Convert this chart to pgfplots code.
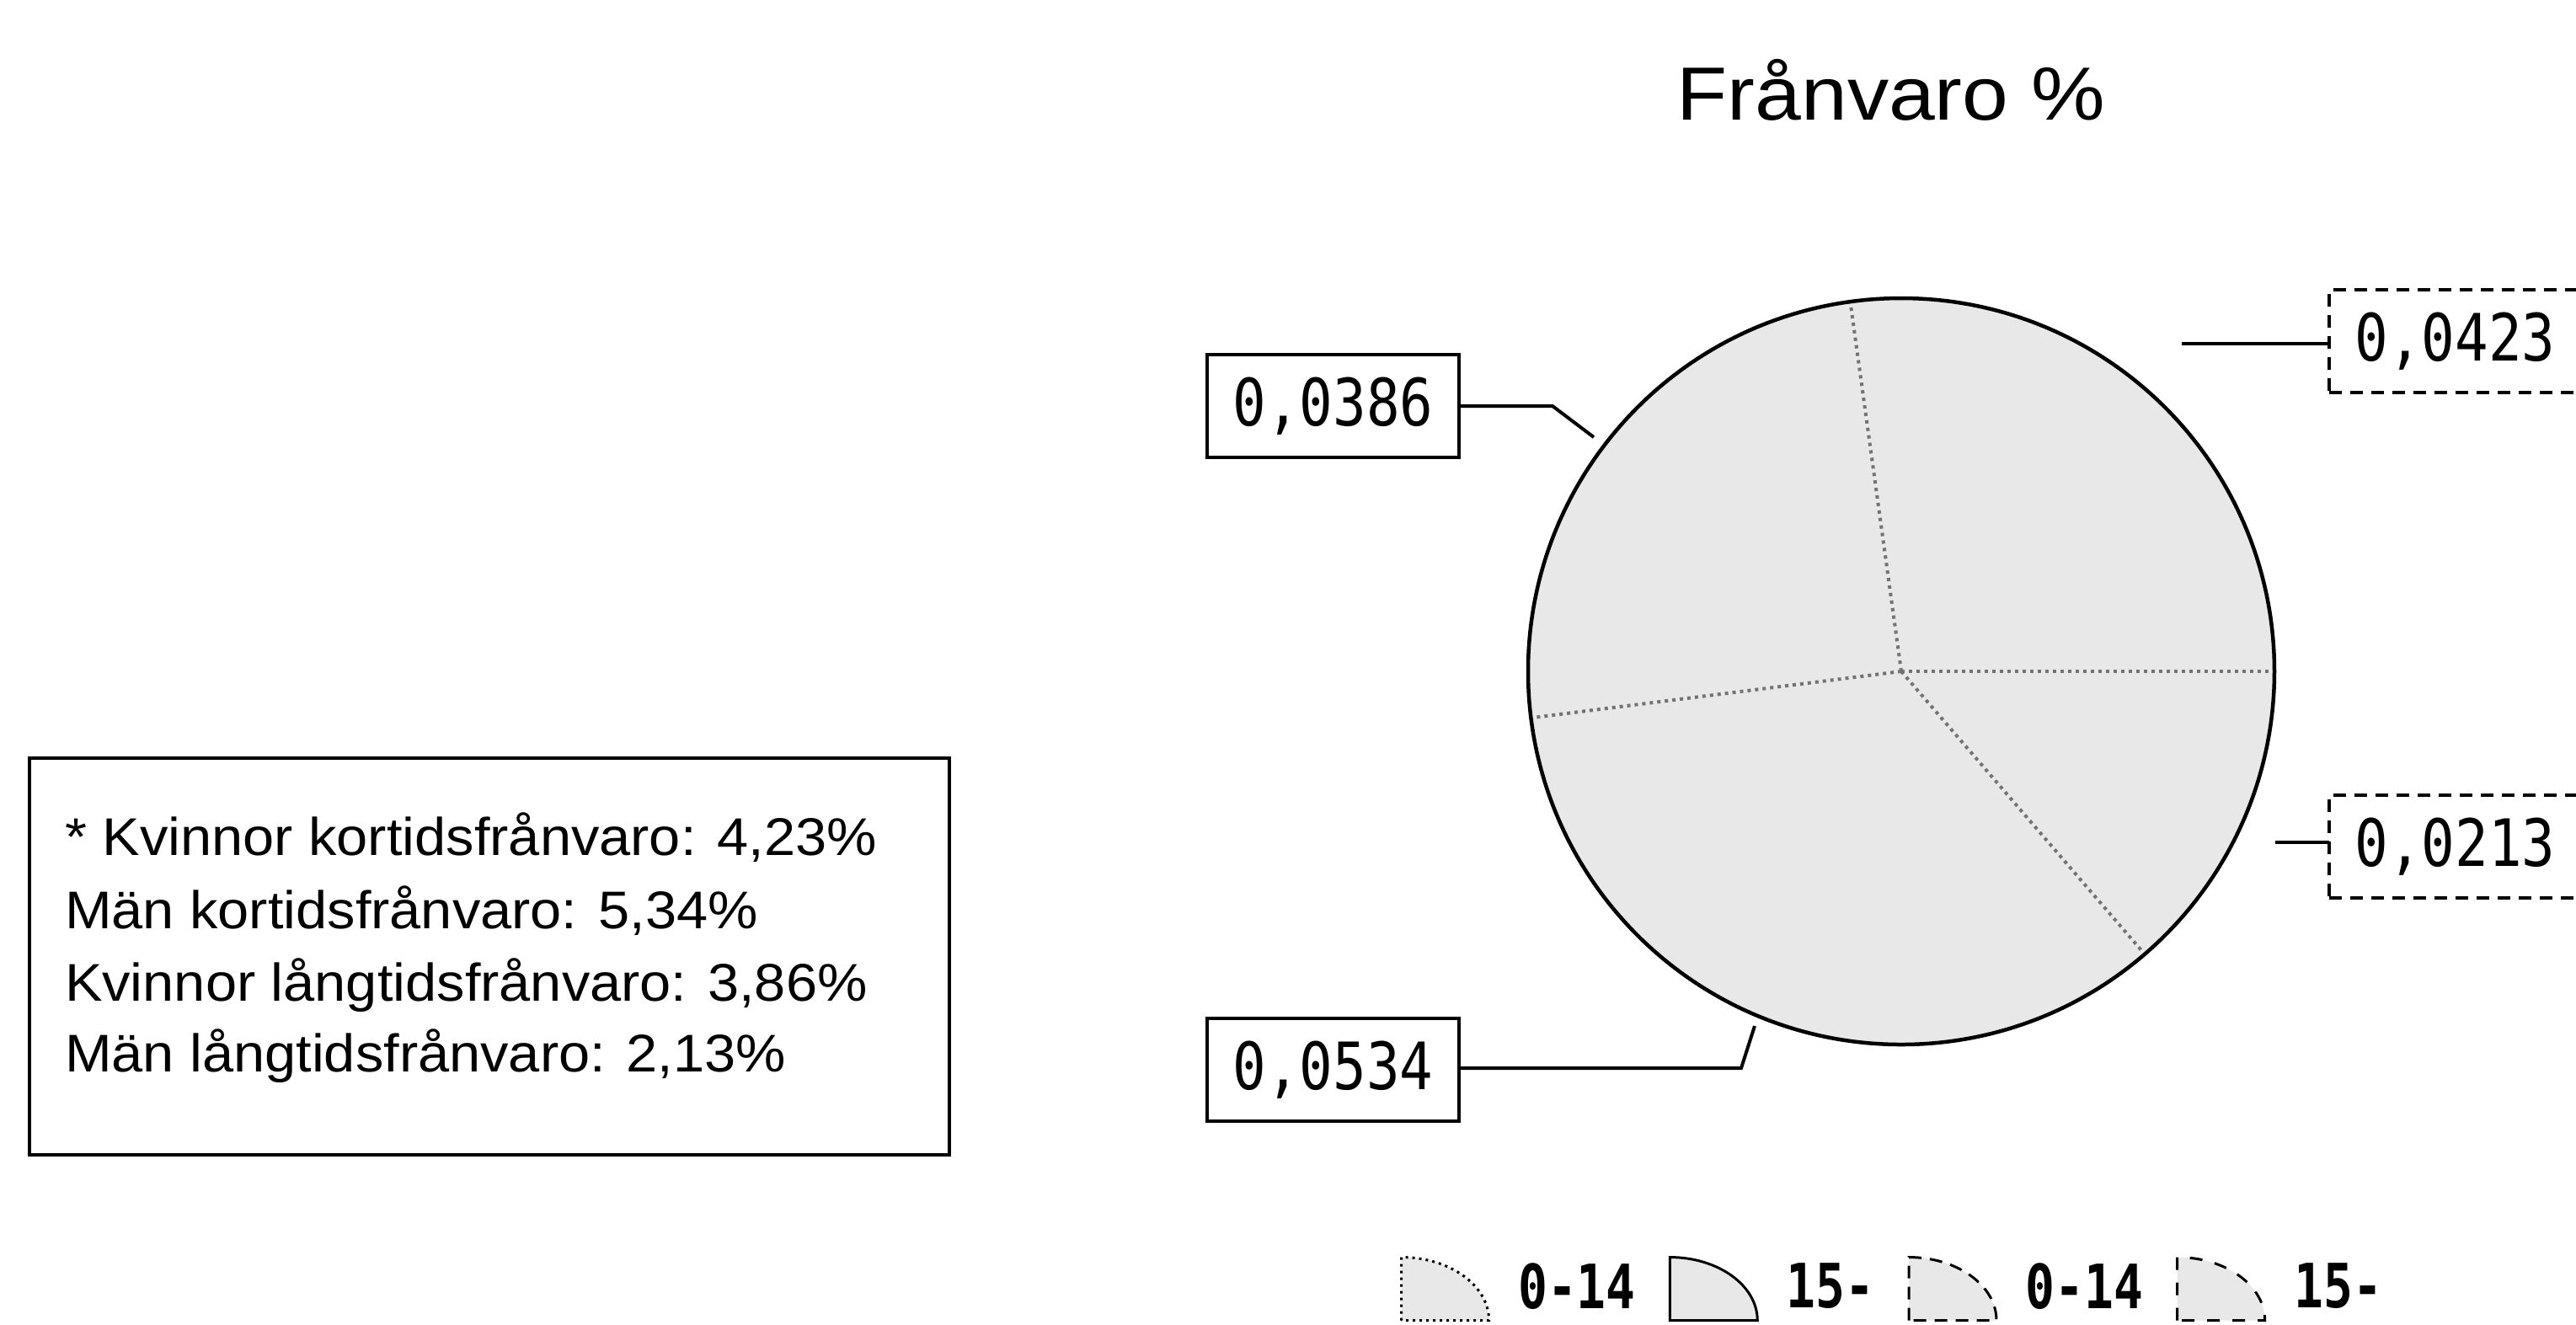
\documentclass[border=0pt]{standalone}
\usepackage{pgfplots}
\usepackage{pgfplotstable}
\pgfplotsset{compat=1.18}
\usepackage{fontspec}
\setmainfont{Liberation Sans}
\newfontfamily\txtfont[FakeStretch=1.06]{Liberation Sans}
\newfontfamily\ttlfont[FakeStretch=1.1]{Liberation Sans}
\newfontfamily\lblfont[FakeStretch=0.85]{DejaVu Sans Mono}
\newfontfamily\lgdfont[FakeStretch=0.8]{DejaVu Sans Mono}

% slices, clockwise, first one ends at 3 o'clock
\pgfplotstableread{
value
0.0423
0.0213
0.0534
0.0386
}\franvaro

\definecolor{piefill}{gray}{0.91}
\tikzset{
  lbl/.style={draw, line width=0.8pt, minimum width=59.8pt, minimum height=24.4pt,
    inner sep=0pt, font=\lblfont\fontsize{15.5}{16}\selectfont},
  txt/.style={anchor=base west, inner sep=0pt, font=\txtfont\fontsize{12.6}{15}\selectfont},
  bound/.style={black!55, densely dotted, line width=0.8pt},
}
\newcommand\fmt[1]{\pgfmathprintnumber[fixed, fixed zerofill, precision=4, use comma, assume math mode=true]{#1}}

\begin{document}
\begin{tikzpicture}
\pgfplotstablegetelem{0}{value}\of\franvaro\let\vA\pgfplotsretval
\pgfplotstablegetelem{1}{value}\of\franvaro\let\vB\pgfplotsretval
\pgfplotstablegetelem{2}{value}\of\franvaro\let\vC\pgfplotsretval
\pgfplotstablegetelem{3}{value}\of\franvaro\let\vD\pgfplotsretval
\pgfmathsetmacro\tot{\vA+\vB+\vC+\vD}
\pgfmathsetmacro\aA{360*\vA/\tot}
\pgfmathsetmacro\aB{0}
\pgfmathsetmacro\aC{\aB-360*\vB/\tot}
\pgfmathsetmacro\aD{\aC-360*\vC/\tot}
\pgfmathsetmacro\aE{\aD-360*\vD/\tot}
\def\cx{2257}\def\cy{797}\def\R{443}
\newcommand\pieslice[2]{\fill[piefill] (\cx,\cy) -- ({\cx+\R*cos(#1)},{\cy-\R*sin(#1)})
  arc[start angle=#1, end angle=#2, radius=88.6pt] -- cycle;}

\begin{axis}[
  at={(0,0)}, anchor=south west,
  scale only axis, width=611.6pt, height=314.4pt,
  xmin=0, xmax=3058, ymin=0, ymax=1572, y dir=reverse,
  enlargelimits=false, hide axis,
  legend image code/.code={\filldraw[#1] (0pt,-7.5pt) -- (0pt,7.5pt)
    arc[start angle=90, end angle=0, x radius=20.8pt, y radius=15pt] -- cycle;},
  legend columns=4,
  legend style={draw=none, fill=none, inner sep=0pt,
    at={(0.5432,0.0267)}, anchor=west,
    font=\lgdfont\bfseries\fontsize{14.5}{15}\selectfont,
    nodes={inner sep=0pt, anchor=west},
    /tikz/every odd column/.append style={column sep=6.6pt},
    /tikz/every even column/.append style={column sep=7.8pt}},
]
\addlegendimage{fill=piefill, draw=black, line width=0.6pt, densely dotted}
\addlegendentry{0-14}
\addlegendimage{fill=piefill, draw=black, line width=0.6pt}
\addlegendentry{15-}
\addlegendimage{fill=piefill, draw=black, line width=0.6pt, densely dashed}
\addlegendentry{0-14}
\addlegendimage{fill=piefill, draw=black, line width=0.6pt, dashed}
\addlegendentry{15-}

% title
\node[anchor=base, font=\ttlfont\fontsize{17.9}{20}\selectfont] at (2245,142) {Frånvaro \%};

% pie
\pieslice{\aA}{\aB}
\pieslice{\aB}{\aC}
\pieslice{\aC}{\aD}
\pieslice{\aD}{\aE}
\draw[bound] (\cx,\cy) -- ({\cx+\R*cos(\aA)},{\cy-\R*sin(\aA)});
\draw[bound] (\cx,\cy) -- ({\cx+\R*cos(\aB)},{\cy-\R*sin(\aB)});
\draw[bound] (\cx,\cy) -- ({\cx+\R*cos(\aC)},{\cy-\R*sin(\aC)});
\draw[bound] (\cx,\cy) -- ({\cx+\R*cos(\aD)},{\cy-\R*sin(\aD)});
\draw[line width=0.9pt] (\cx,\cy) circle[radius=88.6pt];

% value labels and leaders
\node[lbl] at (1582.5,482) {\fmt{\vD}};
\node[lbl, densely dashed] at (2914.5,405) {\fmt{\vA}};
\node[lbl, densely dashed] at (2914.5,1005) {\fmt{\vB}};
\node[lbl] at (1582.5,1270) {\fmt{\vC}};
\draw[line width=0.8pt] (1732,482) -- (1843,482) -- (1892,519);
\draw[line width=0.8pt] (2590,408) -- (2765,408);
\draw[line width=0.8pt] (2701,1000) -- (2765,1000);
\draw[line width=0.8pt] (1732,1268) -- (2067,1268) -- (2083,1218);

% text box
\draw[line width=0.9pt] (35,900) rectangle (1127,1371);
\node[txt] at (76,1015) {* Kvinnor kortidsfrånvaro: 4,23\%};
\node[txt] at (76,1102) {Män kortidsfrånvaro: 5,34\%};
\node[txt] at (76,1188) {Kvinnor långtidsfrånvaro: 3,86\%};
\node[txt] at (76,1272) {Män långtidsfrånvaro: 2,13\%};
\end{axis}
\pgfresetboundingbox
\useasboundingbox (0,0) rectangle (611.6pt,314.4pt);
\end{tikzpicture}
\end{document}
